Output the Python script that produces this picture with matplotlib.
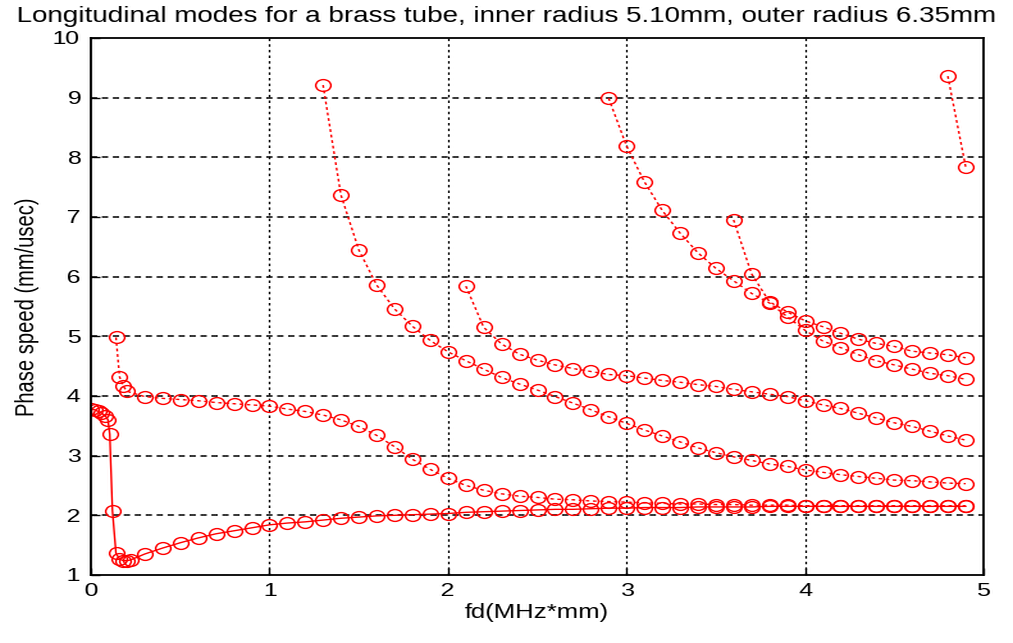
"""
Longitudinal mode dispersion curves, brass tube
"""
import io

import matplotlib
matplotlib.use('Agg')
import matplotlib.pyplot as plt
import numpy as np
from PIL import Image

plt.rcParams['font.family'] = ['Liberation Sans', 'DejaVu Sans']

FILE_NAME = 'out.png'

# ========== Data ==========
# mode 1 (drawn solid)
x1 = [0.0, 0.02, 0.04, 0.06, 0.08, 0.095, 0.105, 0.12, 0.14, 0.16, 0.18, 0.2, 0.22] \
    + list(np.round(np.arange(0.3, 4.95, 0.1), 2))
y1 = [3.78, 3.77, 3.74, 3.71, 3.67, 3.60, 3.36, 2.08, 1.36, 1.27, 1.24, 1.24, 1.25,
      1.35, 1.45, 1.54, 1.62, 1.69, 1.74, 1.79, 1.84, 1.87, 1.89, 1.92, 1.95, 1.97,
      1.99, 2.00, 2.01, 2.02, 2.03, 2.05, 2.06, 2.07, 2.08, 2.09, 2.10, 2.10, 2.11,
      2.12, 2.12, 2.13, 2.13, 2.13, 2.14, 2.14, 2.14, 2.14, 2.15, 2.15, 2.15, 2.15,
      2.15, 2.15, 2.15, 2.15, 2.15, 2.15, 2.15, 2.15]

# mode 2
x2 = [0.14, 0.16, 0.18, 0.2] + list(np.round(np.arange(0.3, 4.95, 0.1), 2))
y2 = [4.98, 4.32, 4.17, 4.08,
      3.99, 3.96, 3.94, 3.92, 3.89, 3.87, 3.85, 3.83, 3.78, 3.74, 3.68, 3.60, 3.49,
      3.34, 3.15, 2.94, 2.77, 2.62, 2.50, 2.42, 2.36, 2.32, 2.30, 2.27, 2.26, 2.24,
      2.23, 2.22, 2.21, 2.20, 2.19, 2.19, 2.18, 2.18, 2.17, 2.17, 2.17, 2.16, 2.16,
      2.16, 2.16, 2.16, 2.16, 2.16, 2.16, 2.16, 2.16]

# mode 3
x3 = list(np.round(np.arange(1.3, 4.95, 0.1), 2))
y3 = [9.21, 7.37, 6.45, 5.86, 5.46, 5.17, 4.93, 4.74, 4.59, 4.45, 4.31, 4.20, 4.10,
      3.99, 3.88, 3.77, 3.65, 3.54, 3.43, 3.33, 3.23, 3.13, 3.05, 2.98, 2.92, 2.86,
      2.82, 2.76, 2.72, 2.68, 2.65, 2.62, 2.59, 2.58, 2.56, 2.54, 2.53]

# mode 4
x4 = list(np.round(np.arange(2.1, 4.95, 0.1), 2))
y4 = [5.84, 5.15, 4.87, 4.70, 4.60, 4.52, 4.46, 4.41, 4.36, 4.34, 4.30, 4.26, 4.23,
      4.19, 4.16, 4.11, 4.07, 4.03, 3.99, 3.92, 3.85, 3.79, 3.71, 3.63, 3.55, 3.49,
      3.41, 3.33, 3.26]

# mode 5
x5 = list(np.round(np.arange(2.9, 4.95, 0.1), 2))
y5 = [8.99, 8.19, 7.59, 7.11, 6.73, 6.40, 6.14, 5.93, 5.72, 5.56, 5.33, 5.10, 4.92,
      4.81, 4.69, 4.59, 4.52, 4.45, 4.38, 4.34, 4.28]

# mode 6
x6 = list(np.round(np.arange(3.6, 4.95, 0.1), 2))
y6 = [6.95, 6.05, 5.58, 5.41, 5.26, 5.16, 5.05, 4.95, 4.88, 4.83, 4.75, 4.72, 4.69,
      4.64]

# mode 7
x7 = [4.8, 4.9]
y7 = [9.36, 7.84]

# ========== Plot ==========
# the reference image is stretched sideways (~1.28x): draw narrow, then resize
stretch = 1.28
out_w, out_h = 1013, 643

fig = plt.figure(figsize=(out_w / stretch / 100, out_h / 100), dpi=100)
ax = fig.add_axes([0.0898, 0.1058, 0.8806, 0.8352])

mk = dict(marker='o', markersize=8.5, markerfacecolor='none',
          markeredgecolor='red', markeredgewidth=1.0, color='red')

ax.plot(x1, y1, linestyle='-', linewidth=1.0, **mk)
for xs, ys in ((x2, y2), (x3, y3), (x4, y4), (x5, y5), (x6, y6), (x7, y7)):
    ax.plot(xs, ys, linestyle=(0, (2, 2)), linewidth=1.0, **mk)

ax.set_xlim(0, 5)
ax.set_ylim(1, 10)
ax.set_xticks(range(0, 6))
ax.set_yticks(range(1, 11))

ax.tick_params(direction='in', length=5, width=1, labelsize=14, colors='black', pad=6)
for s in ax.spines.values():
    s.set_linewidth(1.3)

for v in range(1, 5):
    ax.axvline(v, color='black', linewidth=0.9, linestyle=(0, (2, 2.5)), zorder=0)
for v in range(2, 10):
    ax.axhline(v, color='black', linewidth=1.1, linestyle=(0, (3.2, 2.4)), zorder=0)

ax.set_xlabel('fd(MHz*mm)', fontsize=14.5, labelpad=2)
ax.set_ylabel('Phase speed (mm/usec)', fontsize=14.5, labelpad=7)
fig.text(0.5, 0.975, 'Longitudinal modes for a brass tube, inner radius 5.10mm, outer radius 6.35mm',
         ha='center', va='center', fontsize=15.7)

buf = io.BytesIO()
plt.savefig(buf, dpi=100, format='png')
buf.seek(0)
img = Image.open(buf)
img = img.resize((out_w, out_h), Image.LANCZOS)
img.save(FILE_NAME)
